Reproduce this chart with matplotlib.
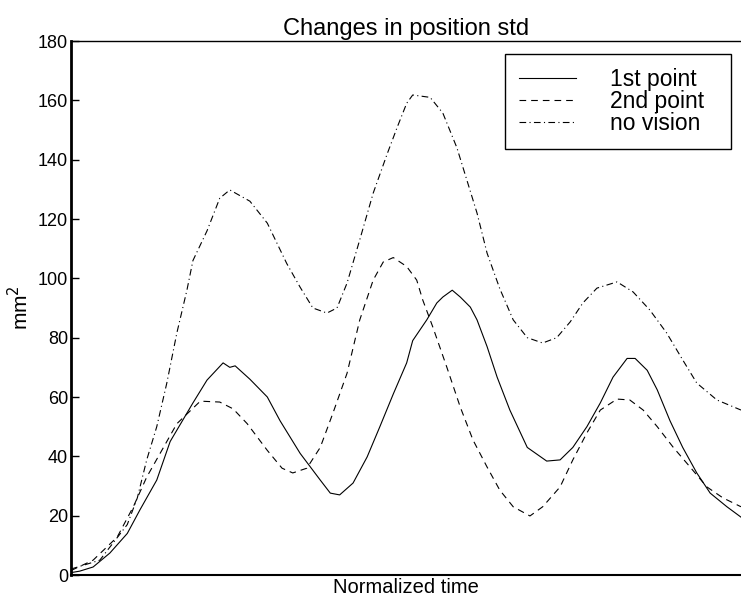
import matplotlib
matplotlib.use("Agg")
import matplotlib.pyplot as plt

plt.rcParams['font.family'] = ['Liberation Sans', 'DejaVu Sans']

# Normalized time (% of movement) and std values (mm^2)
t_first = [0, 1.3, 3.3, 5.8, 8.4, 10.3, 12.8, 14.8, 18.2, 20.3, 22.7, 23.7, 24.5, 26.7, 29.3,
           31.2, 32.7, 34.2, 37.2, 38.7, 40.1, 42.1, 44.2, 46.1, 48.1, 50.1, 51.0, 53.1, 54.6,
           55.5, 56.9, 58.1, 59.6, 60.6, 62.1, 63.6, 65.5, 68.1, 71.0, 73.0, 74.9, 77.0, 79.0,
           80.9, 83.0, 84.2, 86.0, 87.5, 89.4, 91.3, 93.4, 95.4, 97.9, 100]
first_point = [0.8, 1.3, 2.7, 7.4, 14, 22, 32, 45, 58, 65.7, 71.5, 70, 70.5, 66, 60,
               52, 46.5, 41, 32, 27.6, 27, 31, 39.8, 50, 61, 71.5, 79, 86, 91.7,
               93.7, 96, 93.7, 90.3, 86, 77, 66.7, 55.6, 43, 38.4, 38.8, 43, 50, 58,
               66.7, 73, 73, 69, 62.4, 52, 43, 34.4, 27.6, 23, 19.5]

t_second = [0, 3.3, 6.9, 9.3, 11.3, 13.3, 15.8, 19.3, 22.2, 24.2, 26.3, 29.3, 31.5, 33.1,
            35.2, 37.2, 39.1, 41.2, 43.1, 45.1, 46.6, 48.1, 50.1, 51.6, 52.5, 54.0, 56.1,
            58.1, 60.0, 62.1, 64.0, 66.0, 68.5, 70.4, 73.0, 74.9, 77.0, 79.0, 81.5, 83.4,
            85.4, 87.5, 89.9, 92.4, 94.9, 97.3, 100]
second_point = [1.5, 5, 12.8, 23, 33, 41, 51, 58.6, 58.3, 56, 51, 42, 36, 34.4,
                36, 43, 54.6, 68, 86, 99.4, 105.5, 107, 104, 99.4, 92.7, 83.6, 70,
                56.6, 45.5, 36.4, 28.6, 23, 19.9, 23, 29.7, 38.8, 47.9, 55.6, 59.3, 59,
                55.6, 50, 43, 36.4, 29.7, 26, 23]

t_novis = [0, 4.3, 8.4, 9.9, 11.3, 12.8, 14.3, 15.8, 17.3, 18.2, 20.3, 22.2, 23.7, 26.7,
           29.3, 32.2, 34.2, 36.1, 38.2, 39.7, 41.2, 43.1, 45.1, 47.2, 48.7, 50.1, 51.0,
           53.6, 55.5, 57.6, 59.1, 60.6, 62.1, 64.0, 66.0, 68.1, 70.4, 72.5, 74.5, 76.4,
           78.5, 81.5, 83.9, 86.4, 88.9, 91.3, 93.4, 96.4, 100]
no_vision = [2, 5, 17, 26, 38.8, 50, 64.7, 81.6, 96, 106, 116, 127, 129.8, 126,
             118.6, 105, 97, 90, 88.3, 90, 98.4, 113, 128.7, 142, 151, 159, 161.8,
             161, 155.7, 144, 133, 122, 108.5, 96.5, 86, 80, 78.2, 80, 85.3, 91.7,
             96.7, 98.8, 95.4, 89.3, 81.6, 72.5, 64.7, 59, 55.6]

labels = ['1st point', '2nd point', 'no vision']
yticks = [0, 20, 40, 60, 80, 100, 120, 140, 160, 180]

W, H = 741, 603
fig = plt.figure(figsize=(W / 100, H / 100), dpi=100)
ax = fig.add_axes([71 / W, (H - 575) / H, (W - 71) / W, (575 - 41) / H])

lw = 0.8
ax.plot(t_first, first_point, color='black', lw=lw, label=labels[0])
ax.plot(t_second, second_point, color='black', lw=lw, dashes=(6, 4.5), label=labels[1])
ax.plot(t_novis, no_vision, color='black', lw=lw, dashes=(6, 3, 1, 3), label=labels[2])

ax.set_xlim(0, 100)
ax.set_ylim(0, 180)
ax.set_yticks(yticks)
ax.set_xticks([])
ax.tick_params(axis='y', direction='in', length=6, width=1, labelsize=13, pad=2)

ax.spines['right'].set_visible(False)
ax.spines['left'].set_linewidth(2)
ax.spines['bottom'].set_linewidth(1.5)
ax.spines['top'].set_linewidth(1)

ax.set_title('Changes in position std', fontsize=17, pad=4)
ax.set_xlabel('Normalized time', fontsize=14.5, labelpad=2)
ax.set_ylabel('mm$^2$', fontsize=15, labelpad=4)

x0 = (505 - 71) / 670
x1 = (731 - 71) / 670
ytop = (575 - 54) / 534
leg = ax.legend(loc='upper left', bbox_to_anchor=(x0, 0.5, x1 - x0, ytop - 0.5),
                mode='expand', borderaxespad=0, fontsize=16.5, handlelength=2.5,
                handletextpad=1.5, labelspacing=-0.03, fancybox=False, framealpha=1,
                edgecolor='black', borderpad=0.6)
leg.get_frame().set_linewidth(1)

fig.savefig('out.png', dpi=100)
